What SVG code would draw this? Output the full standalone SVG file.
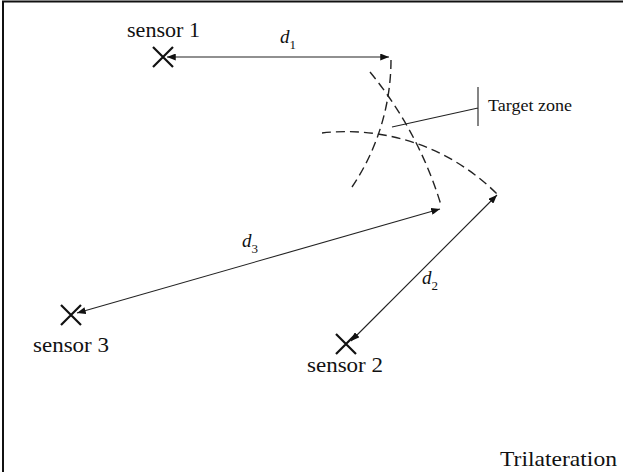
<svg xmlns="http://www.w3.org/2000/svg" width="623" height="472" viewBox="0 0 623 472">
<defs>
<marker id="ah" viewBox="0 0 10 8" refX="10" refY="4" markerWidth="9" markerHeight="7" markerUnits="userSpaceOnUse" orient="auto-start-reverse">
<path d="M0,0 L10,4 L0,8 z" fill="#111"/>
</marker>
</defs>
<style>
.lbl{font-family:"Liberation Serif","Times New Roman",serif;fill:#111;font-size:21px}
.dl{font-family:"Liberation Serif","Times New Roman",serif;fill:#111;font-style:italic;font-size:19px}
.sub{font-size:13px;font-style:normal}
.x{stroke:#111;stroke-width:2.2;fill:none}
.arc{stroke:#222;stroke-width:1.4;fill:none;stroke-dasharray:9 5}
.conn{stroke:#222;stroke-width:1.1;fill:none}
</style>
<rect width="623" height="472" fill="#fff"/>
<path d="M3,472 V1.5 H623" stroke="#111" stroke-width="2" fill="none"/>
<g id="sensor1">
<path class="x" d="M153,47 L173,67 M173,47 L153,67"/>
<text class="lbl" x="127" y="37" textLength="73" lengthAdjust="spacingAndGlyphs">sensor 1</text>
</g>
<g id="sensor2">
<path class="x" d="M336,334 L356,354 M356,334 L336,354"/>
<text class="lbl" x="307" y="372" textLength="76" lengthAdjust="spacingAndGlyphs">sensor 2</text>
</g>
<g id="sensor3">
<path class="x" d="M61,305 L81,325 M81,305 L61,325"/>
<text class="lbl" x="33" y="352" textLength="76" lengthAdjust="spacingAndGlyphs">sensor 3</text>
</g>
<g id="arcs">
<path class="arc" d="M391,60 A228,228 0 0 1 352,187"/>
<path class="arc" d="M370,72 A386,386 0 0 1 441,205"/>
<path class="arc" d="M322,133 A213,213 0 0 1 497,194"/>
</g>
<g id="target">
<path class="conn" d="M392,127 L478,108 M478,87 V126" stroke-width="1.3"/>
<text x="488" y="111" textLength="84" lengthAdjust="spacingAndGlyphs" style="font-family:'Liberation Serif','Times New Roman',serif;font-size:17px;fill:#111">Target zone</text>
</g>
<g id="connectors">
<line class="conn" x1="167" y1="57" x2="389" y2="57" marker-start="url(#ah)" marker-end="url(#ah)"/>
<line class="conn" x1="77" y1="313" x2="440" y2="209" marker-start="url(#ah)" marker-end="url(#ah)"/>
<line class="conn" x1="497" y1="195" x2="351" y2="341" marker-start="url(#ah)" marker-end="url(#ah)"/>
</g>
<g id="labels">
<text class="dl" x="280" y="43">d<tspan class="sub" dy="6">1</tspan></text>
<text class="dl" x="242" y="247">d<tspan class="sub" dy="6">3</tspan></text>
<text class="dl" x="422" y="284">d<tspan class="sub" dy="6">2</tspan></text>
<text class="lbl" x="500" y="466" textLength="117" lengthAdjust="spacingAndGlyphs">Trilateration</text>
</g>
</svg>
